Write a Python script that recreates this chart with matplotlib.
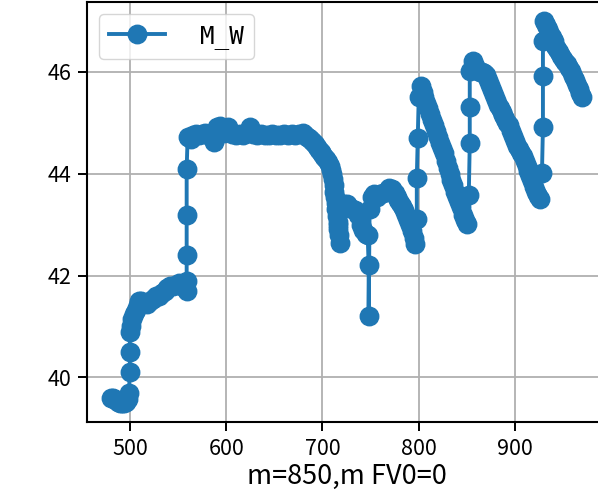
import matplotlib
matplotlib.use("Agg")
import matplotlib.pyplot as plt

plt.rcParams['font.family'] = ['Noto Sans CJK JP', 'DejaVu Sans']

series_name = "M_W"
x_label = "m=850,m FV0=0"
x_ticks = [500, 600, 700, 800, 900]
y_ticks = [40, 42, 44, 46]

m_values = [
    480, 482, 484, 486, 488, 490, 492, 494, 496, 498,
    499, 500, 500, 500, 501, 502, 504, 506, 508, 510,
    512, 515, 518, 521, 524, 527, 530, 533, 536, 539,
    542, 545, 548, 551, 554, 557, 559, 559, 559, 559,
    559, 560,
    563, 566, 569, 572, 575, 578, 581, 584, 587, 590,
    594, 598, 602, 606, 610, 614, 618, 622, 625, 628,
    632, 636, 640, 644, 648, 652, 656, 660, 664, 668,
    672, 676, 680,
    682, 684, 686, 688, 690, 692, 694, 696, 698, 700,
    702, 704, 706, 708, 709, 710, 711, 712, 712.5, 713,
    714, 714.5, 715, 716, 716.5, 717, 718,
    716, 719, 722, 725, 728, 731, 734, 737, 740, 742,
    745, 747, 748, 748,
    749, 751, 754, 757, 760, 763, 766, 769, 772, 775,
    777, 779, 781, 783, 785, 787, 789, 791, 793, 795, 796,
    798, 798, 799, 800, 802,
    804, 806, 808, 810, 812, 814, 816, 818, 820, 822,
    824, 826, 828, 830, 832, 834, 836, 838, 840, 842,
    844, 846, 848, 850,
    852, 853, 853, 853, 856,
    858, 860, 862, 864, 866, 868, 870, 872, 874, 876,
    878, 880, 882, 884, 886, 888, 890, 892, 894, 896,
    898, 900, 902, 904, 906, 908, 910, 912, 914, 916,
    918, 920, 922, 924, 926,
    928, 929, 929, 929, 930,
    932, 934, 936, 938, 940, 942, 944, 946, 948, 950,
    952, 954, 956, 958, 960, 962, 964, 966, 968, 970,
]

mw_values = [
    39.60, 39.60, 39.58, 39.55, 39.52, 39.50, 39.50, 39.50, 39.52, 39.58,
    39.70, 40.10, 40.50, 40.90, 41.02, 41.15, 41.25, 41.32, 41.42, 41.50,
    41.50, 41.46, 41.45, 41.50, 41.55, 41.60, 41.60, 41.65, 41.70, 41.75,
    41.80, 41.80, 41.82, 41.85, 41.80, 41.75, 41.70, 41.90, 42.40, 43.20,
    44.10, 44.72,
    44.68, 44.76, 44.78, 44.76, 44.78, 44.80, 44.76, 44.80, 44.62, 44.92,
    44.94, 44.80, 44.92, 44.78, 44.76, 44.78, 44.76, 44.80, 44.92, 44.78,
    44.76, 44.78, 44.76, 44.76, 44.78, 44.76, 44.76, 44.78, 44.76, 44.78,
    44.76, 44.78, 44.80,
    44.76, 44.72, 44.70, 44.66, 44.62, 44.58, 44.52, 44.46, 44.42, 44.38,
    44.34, 44.30, 44.24, 44.16, 44.08, 44.00, 43.90, 43.78, 43.65, 43.55,
    43.42, 43.30, 43.18, 43.05, 42.92, 42.80, 42.64,
    43.00, 43.30, 43.40, 43.40, 43.35, 43.30, 43.28, 43.20, 43.00, 42.90,
    42.82, 42.80, 42.20, 41.20,
    43.30, 43.55, 43.60, 43.55, 43.60, 43.62, 43.65, 43.72, 43.70, 43.62,
    43.55, 43.48, 43.42, 43.36, 43.28, 43.20, 43.10, 43.00, 42.88, 42.74, 42.62,
    43.12, 43.92, 44.70, 45.50, 45.72,
    45.60, 45.50, 45.40, 45.30, 45.18, 45.05, 44.95, 44.85, 44.72, 44.60,
    44.50, 44.40, 44.25, 44.12, 44.00, 43.88, 43.78, 43.65, 43.55, 43.45,
    43.35, 43.20, 43.10, 43.02,
    43.58, 44.60, 45.32, 46.02, 46.22,
    46.12, 46.05, 46.02, 46.00, 46.00, 45.98, 45.95, 45.85, 45.75, 45.65,
    45.55, 45.45, 45.36, 45.30, 45.22, 45.15, 45.08, 45.00, 44.95, 44.85,
    44.75, 44.65, 44.55, 44.48, 44.40, 44.35, 44.25, 44.15, 44.05, 43.95,
    43.85, 43.75, 43.65, 43.56, 43.50,
    44.02, 44.92, 45.92, 46.60, 47.00,
    46.92, 46.85, 46.75, 46.68, 46.60, 46.52, 46.45, 46.40, 46.32, 46.25,
    46.20, 46.15, 46.08, 46.02, 45.92, 45.85, 45.75, 45.66, 45.58, 45.50,
]

W, H = 598, 499
fig = plt.figure(figsize=(W / 100, H / 100), dpi=100)
ax = fig.add_axes([87 / W, 77 / H, 519 / W, 420 / H])

ax.plot(m_values, mw_values, marker='o', color='#1f77b4', linewidth=2.8,
        markersize=13.3, label=series_name)

ax.set_xlim(455.5, 994.5)
ax.set_ylim(39.125, 47.375)
ax.set_xticks(x_ticks)
ax.set_yticks(y_ticks)
ax.grid(True, color='#b0b0b0', linewidth=1.3)
for s in ax.spines.values():
    s.set_linewidth(1.5)
ax.tick_params(axis='both', labelsize=15.5, length=6.5, width=1.4, pad=5)
ax.set_xlabel(x_label, fontsize=19.5, labelpad=2)

ax.legend(loc='upper left', prop={'family': 'DejaVu Sans Mono', 'size': 17.5},
          handlelength=2.3, handletextpad=1.45, borderpad=0.4,
          framealpha=0.8, edgecolor='#cccccc')

fig.savefig("out.png", dpi=100)
